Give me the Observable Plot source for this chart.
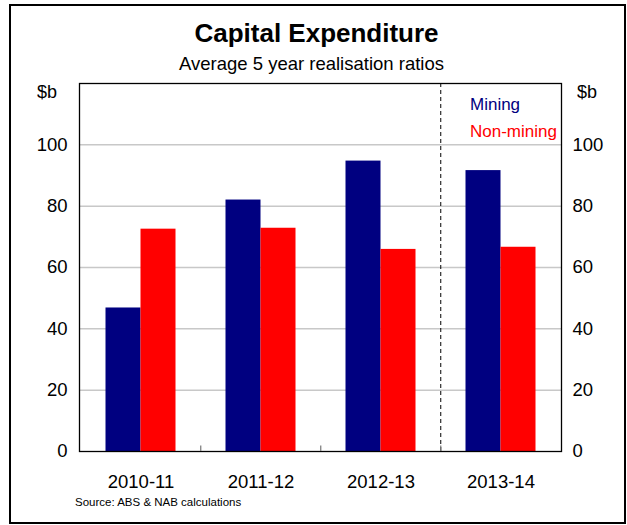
<!DOCTYPE html>
<html>
<head>
<meta charset="utf-8">
<script src="https://cdn.jsdelivr.net/npm/d3@7"></script>
<script src="https://cdn.jsdelivr.net/npm/@observablehq/plot@0.6"></script>
<style>
  html, body { margin: 0; padding: 0; background: #fff; }
  #wrap { position: relative; width: 627px; height: 525px; overflow: hidden; font-family: "Liberation Sans", Arial, sans-serif; color: #000; }
  #border { position: absolute; left: 9px; top: 4px; width: 617px; height: 520px; box-sizing: border-box; border: 2px solid #000; }
  .t { position: absolute; line-height: 1; white-space: nowrap; }
  #chart { position: absolute; left: 0; top: 0; }
</style>
</head>
<body>
<div id="wrap">
  <div id="chart"></div>
  <div id="border"></div>
  <div class="t" id="title" style="left:3px;width:627px;text-align:center;font-weight:bold;font-size:26px;top:20px;">Capital Expenditure</div>
  <div class="t" id="subtitle" style="left:-2px;width:627px;text-align:center;font-size:18.5px;top:55.3px;">Average 5 year realisation ratios</div>
  <div class="t" style="left:37px;font-size:18px;top:82.8px;">$b</div>
  <div class="t" style="left:577px;font-size:18px;top:82.8px;">$b</div>
  <div class="t" id="leg1" style="left:470px;font-size:17px;top:96.3px;color:#000080;"></div>
  <div class="t" id="leg2" style="left:470px;font-size:17px;top:122.9px;color:#ff0000;"></div>
  <div class="t" style="left:75px;font-size:11.5px;top:497.3px;">Source: ABS &amp; NAB calculations</div>
</div>
<script>
// ---- data ----
const categories = ["2010-11", "2011-12", "2012-13", "2013-14"];
const seriesNames = ["Mining", "Non-mining"];
const mining = [46.8, 82.0, 94.7, 91.6];
const nonMining = [72.5, 72.8, 65.9, 66.6];
const yTicks = [0, 20, 40, 60, 80, 100];
const gridTicks = [20, 40, 60, 80, 100];
const forecastStart = ["2013-14"];
const colors = ["#000080", "#ff0000"];

document.getElementById("leg1").textContent = seriesNames[0];
document.getElementById("leg2").textContent = seriesNames[1];

const miningData = categories.map((c, i) => ({category: c, series: seriesNames[0], value: mining[i]}));
const nonMiningData = categories.map((c, i) => ({category: c, series: seriesNames[1], value: nonMining[i]}));

const W = 627, H = 525;
const mL = 79, mR = 66, mT = 83, mB = 74;
const step = (W - mL - mR) / categories.length;

const plot = Plot.plot({
  width: W,
  height: H,
  marginLeft: mL,
  marginRight: mR,
  marginTop: mT,
  marginBottom: mB,
  style: {fontFamily: "'Liberation Sans', Arial, sans-serif", fontSize: "18.5px", background: "transparent", overflow: "visible"},
  x: {domain: categories, type: "band", paddingInner: 0.71, paddingOuter: 0.355, axis: null},
  y: {domain: [0, 120], axis: null},
  marks: [
    Plot.gridY(gridTicks, {stroke: "#c8c8c8", strokeOpacity: 1, strokeWidth: 1.5}),
    Plot.barY(miningData, {x: "category", y: "value", fill: colors[0], dx: -17.5}),
    Plot.barY(nonMiningData, {x: "category", y: "value", fill: colors[1], dx: 17.5}),
    Plot.frame({stroke: "#000", strokeWidth: 1.3}),
    Plot.ruleX(forecastStart, {x: d => d, y1: 0, y2: 120, dx: -step / 2, stroke: "#000", strokeWidth: 1, strokeDasharray: "4,3"}),
    Plot.ruleX(categories.slice(1), {x: d => d, y1: 0, y2: 1.8, dx: -step / 2, stroke: "#777", strokeWidth: 1.2}),
    Plot.axisX({tickSize: 0, tickPadding: 22.9, fontSize: 18.5, label: null}),
    Plot.axisY(yTicks, {anchor: "left", tickSize: 0, tickPadding: 12, fontSize: 18.5, label: null}),
    Plot.axisY(yTicks, {anchor: "right", tickSize: 0, tickPadding: 11, fontSize: 18.5, label: null})
  ]
});
document.getElementById("chart").appendChild(plot);
</script>
</body>
</html>
